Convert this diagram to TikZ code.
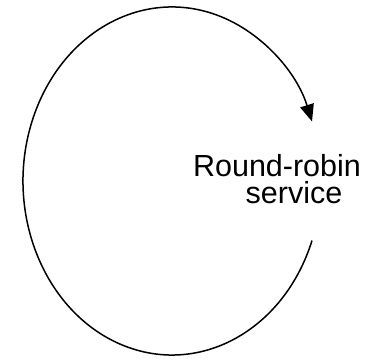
\documentclass[tikz,border=0pt]{standalone}
\usepackage{fontspec}
\setmainfont{Liberation Sans}
\usetikzlibrary{positioning, arrows.meta, calc}

\begin{document}
\begin{tikzpicture}[
    x=1pt, y=1pt,
    every node/.style={font=\fontsize{30.5}{27}\selectfont},
    cycle/.style={line width=1.5pt, -{Triangle[length=17pt, width=14pt]}},
    caption/.style={align=center, inner sep=0pt}
]
\useasboundingbox (0,0) rectangle (370,361);

% Centre of the loop and the open end at the bottom right
\coordinate (hub) at (172,180);
\coordinate (tail) at ($(hub)+(-20:149pt and 174pt)$);

% Loop, going round the left and back down onto the right
\draw[cycle] (tail) arc[start angle=-20, end angle=-340, x radius=149pt, y radius=174pt];

% Label
\node[caption] (service) at (277,181.5) {Round-robin\\\hspace*{34pt}service};

\end{tikzpicture}
\end{document}
